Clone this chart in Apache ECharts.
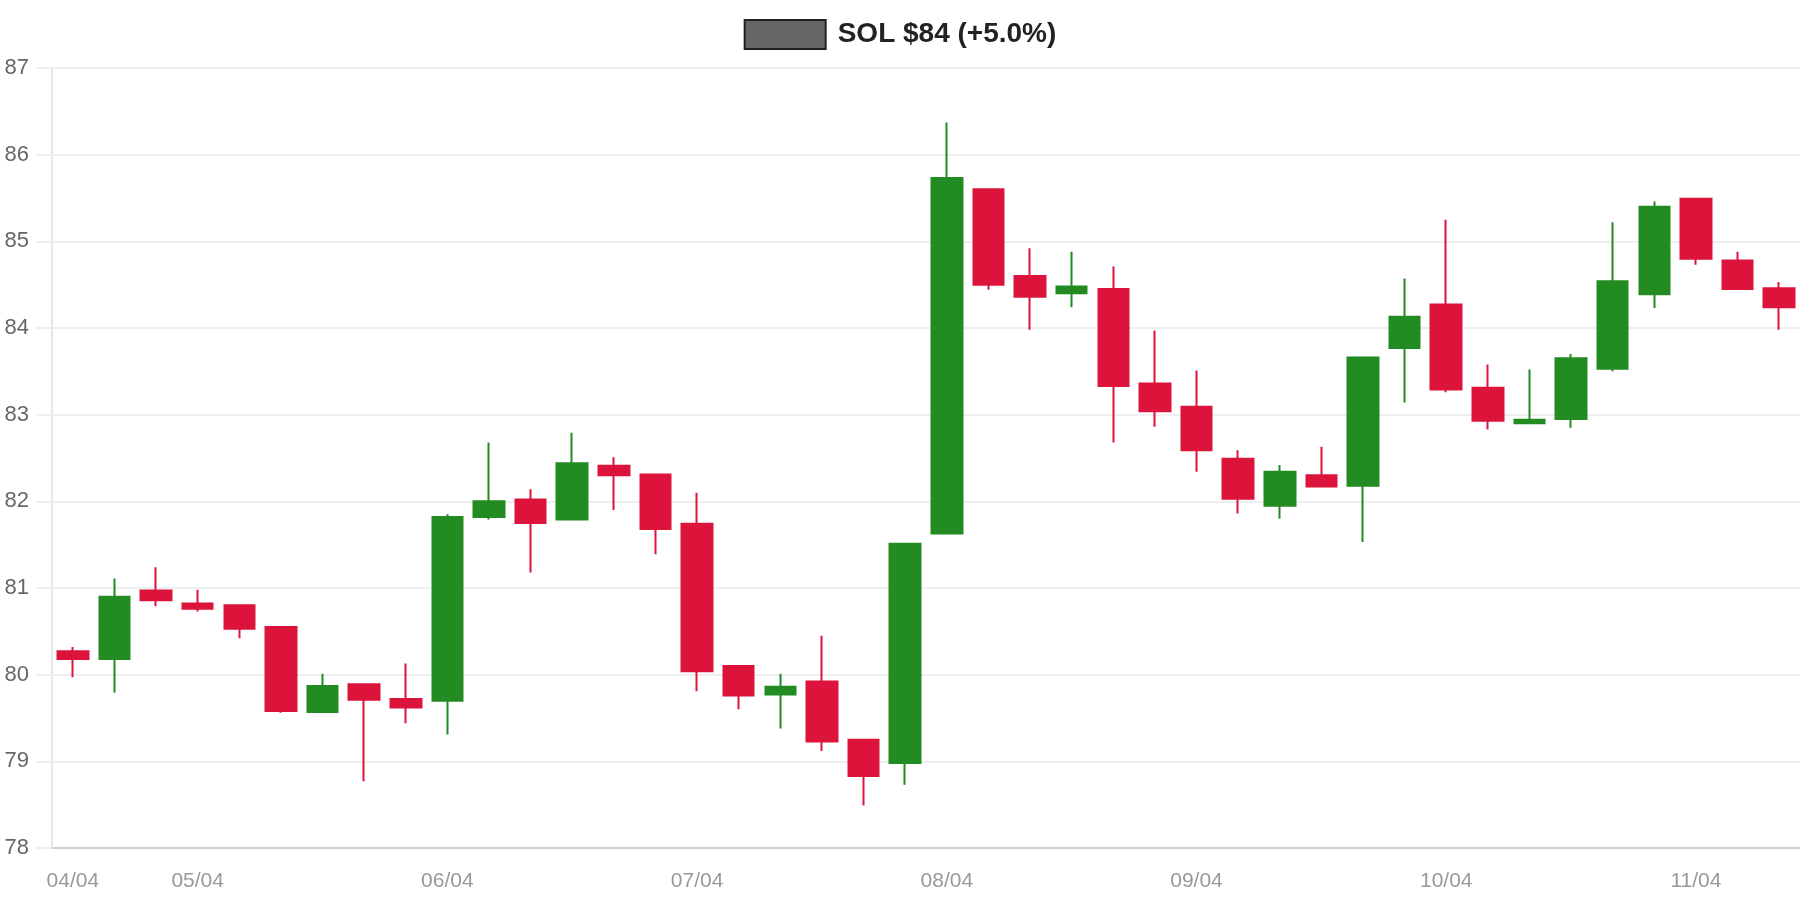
<!DOCTYPE html>
<html>
<head>
<meta charset="utf-8">
<title>SOL candles</title>
<script src="https://cdn.jsdelivr.net/npm/echarts@6/dist/echarts.min.js"></script>
<style>
  html, body { margin: 0; padding: 0; background: #fff; }
  #chart { width: 1800px; height: 900px; }
</style>
</head>
<body>
<div id="chart"></div>
<script>
// 4h candles, labels only at day start
const categories = [
  "04/04 12:00", "04/04 16:00", "04/04 20:00",
  "05/04 00:00", "05/04 04:00", "05/04 08:00", "05/04 12:00", "05/04 16:00", "05/04 20:00",
  "06/04 00:00", "06/04 04:00", "06/04 08:00", "06/04 12:00", "06/04 16:00", "06/04 20:00",
  "07/04 00:00", "07/04 04:00", "07/04 08:00", "07/04 12:00", "07/04 16:00", "07/04 20:00",
  "08/04 00:00", "08/04 04:00", "08/04 08:00", "08/04 12:00", "08/04 16:00", "08/04 20:00",
  "09/04 00:00", "09/04 04:00", "09/04 08:00", "09/04 12:00", "09/04 16:00", "09/04 20:00",
  "10/04 00:00", "10/04 04:00", "10/04 08:00", "10/04 12:00", "10/04 16:00", "10/04 20:00",
  "11/04 00:00", "11/04 04:00", "11/04 08:00",
];

const opens = [
  80.27, 80.18, 80.97, 80.82, 80.80, 80.55, 79.57, 79.89, 79.72, 79.70,
  81.82, 82.02, 81.79, 82.41, 82.31, 81.74, 80.10, 79.77, 79.92, 79.25,
  78.98, 81.63, 85.60, 84.60, 84.40, 84.45, 83.36, 83.09, 82.49, 81.95,
  82.30, 82.18, 83.77, 84.27, 83.31, 82.90, 82.95, 83.53, 84.39, 85.49,
  84.78, 84.46,
];
const closes = [
  80.18, 80.90, 80.86, 80.76, 80.53, 79.58, 79.87, 79.71, 79.62, 81.82,
  82.00, 81.75, 82.44, 82.30, 81.68, 80.04, 79.76, 79.86, 79.23, 78.83,
  81.51, 85.73, 84.50, 84.36, 84.48, 83.33, 83.04, 82.59, 82.03, 82.34,
  82.17, 83.66, 84.13, 83.29, 82.93, 82.94, 83.65, 84.54, 85.40, 84.80,
  84.45, 84.24,
];
const lows = [
  79.97, 79.79, 80.79, 80.73, 80.42, 79.56, 79.57, 78.77, 79.44, 79.31,
  81.79, 81.18, 81.79, 81.90, 81.39, 79.81, 79.60, 79.38, 79.12, 78.49,
  78.73, 81.63, 84.44, 83.98, 84.24, 82.68, 82.86, 82.34, 81.86, 81.80,
  82.17, 81.53, 83.14, 83.26, 82.83, 82.90, 82.85, 83.50, 84.23, 84.73,
  84.45, 83.98,
];
const highs = [
  80.32, 81.11, 81.24, 80.98, 80.80, 80.55, 80.01, 79.89, 80.13, 81.85,
  82.68, 82.14, 82.79, 82.51, 82.31, 82.10, 80.10, 80.01, 80.45, 79.26,
  81.51, 86.37, 85.60, 84.92, 84.88, 84.71, 83.97, 83.51, 82.59, 82.42,
  82.63, 83.66, 84.57, 85.25, 83.58, 83.52, 83.70, 85.22, 85.46, 85.49,
  84.88, 84.53,
];

const yTicks = [78, 79, 80, 81, 82, 83, 84, 85, 86, 87];

const seriesName = "SOL $84 (+5.0%)";
const upColor = "#228B22";
const downColor = "#DC143C";
const fontFamily = "'Liberation Sans', Arial, sans-serif";

// echarts wants [open, close, low, high]
const candles = opens.map((o, i) => [o, closes[i], lows[i], highs[i]]);

const chart = echarts.init(document.getElementById("chart"));

chart.setOption({
  animation: false,
  backgroundColor: "#fff",
  textStyle: { fontFamily: fontFamily },
  legend: {
    top: 14,
    left: "center",
    itemWidth: 81,
    itemHeight: 29,
    data: [
      {
        name: seriesName,
        icon: "rect",
        itemStyle: { color: "#666666", borderColor: "#222222", borderWidth: 2 },
      },
    ],
    textStyle: {
      fontSize: 28,
      fontWeight: "bold",
      color: "#222",
      fontFamily: fontFamily,
      padding: [0, 0, 0, 7],
    },
  },
  grid: {
    left: 52,
    right: 0,
    top: 68,
    bottom: 52,
  },
  xAxis: {
    type: "category",
    data: categories,
    boundaryGap: true,
    axisLine: { lineStyle: { color: "#d0d0d0", width: 2 } },
    axisTick: { show: false },
    axisLabel: {
      color: "#999999",
      fontSize: 21,
      margin: 23,
      interval: (index, value) => index === 0 || value.endsWith("00:00"),
      formatter: (value) => value.slice(0, 5),
    },
    splitLine: { show: false },
  },
  yAxis: {
    type: "value",
    min: yTicks[0],
    max: yTicks[yTicks.length - 1],
    interval: 1,
    axisLine: { show: true, lineStyle: { color: "#e6e6e6", width: 2 } },
    axisTick: { show: true, length: 16, lineStyle: { color: "#efefef", width: 2 } },
    axisLabel: { color: "#666666", fontSize: 22, margin: 23 },
    splitLine: { lineStyle: { color: "#efefef", width: 2 } },
  },
  series: [
    {
      name: seriesName,
      type: "candlestick",
      data: candles,
      barWidth: 31,
      itemStyle: {
        color: upColor,
        color0: downColor,
        borderColor: upColor,
        borderColor0: downColor,
        borderWidth: 2,
      },
    },
  ],
});
</script>
</body>
</html>
